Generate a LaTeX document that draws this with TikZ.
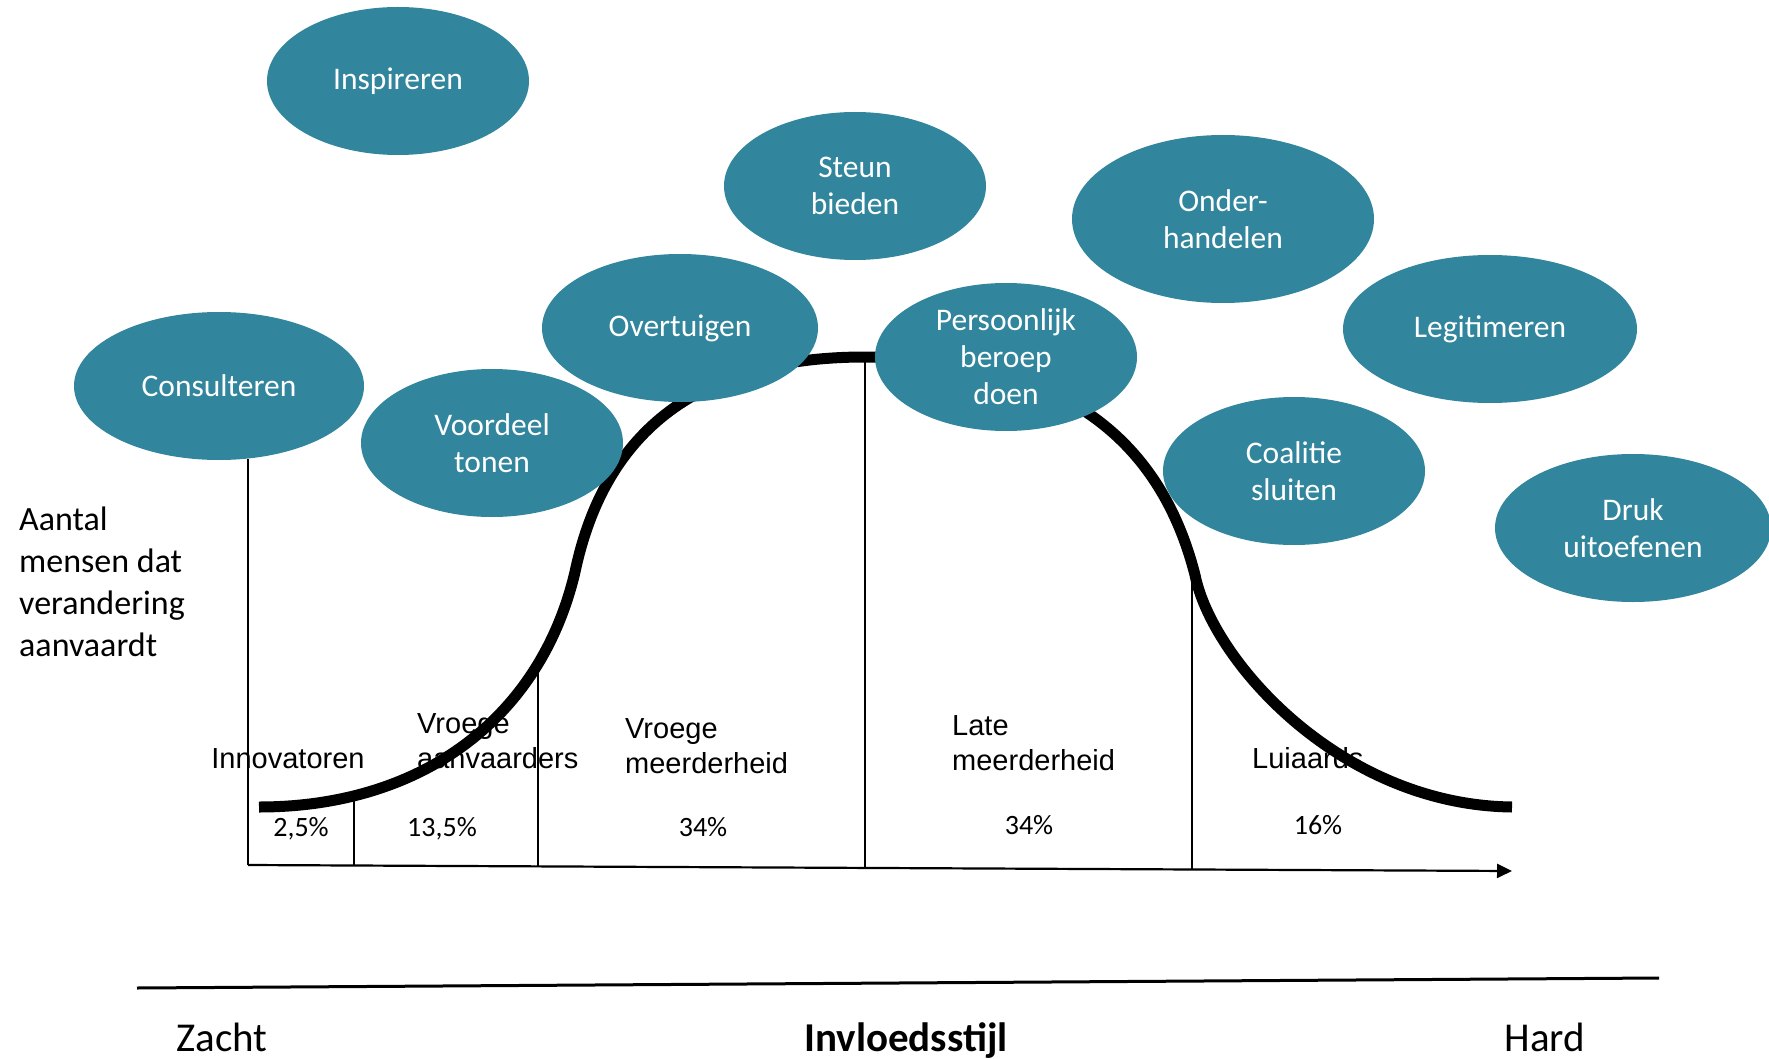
\documentclass[tikz,border=0pt]{standalone}
\usepackage{fontspec}
\setmainfont{Carlito}
\newfontfamily\arialf{Liberation Sans}
\usetikzlibrary{shapes.geometric,arrows.meta}
\definecolor{tealbub}{HTML}{31859C}
\begin{document}
\begin{tikzpicture}[x=1pt,y=-1pt,
  bubble/.style={ellipse, fill=tealbub, text=white, inner sep=0pt, align=center,
    font=\fontsize{31.5}{37}\selectfont},
  grp/.style={font=\arialf\fontsize{29}{35}\selectfont, inner sep=0pt, align=left, anchor=base west},
  pct/.style={font=\fontsize{28}{33}\selectfont, inner sep=0pt, anchor=base},
  bottomlbl/.style={font=\fontsize{41}{48}\selectfont, inner sep=0pt, anchor=base},
  divider/.style={line width=2pt},
  bellcurve/.style={line width=11pt},
  axisline/.style={line width=2.2pt, -{Triangle[length=15pt,width=14pt]}}
]
\useasboundingbox (0,0) rectangle (1769,1059);

% y-axis label (base anchor = baseline of last line)
\node[font=\fontsize{34}{41.7}\selectfont, inner sep=0pt, align=left, anchor=base west]
  (ylab) at (19,656) {Aantal\\mensen dat\\verandering\\aanvaardt};

% group labels
\node[grp, anchor=base] (innov) at (288,768.5) {Innovatoren};
\node[grp] (vaanv) at (417,768.5) {Vroege\\aanvaarders};
\node[grp] (vmeer) at (625,773.5) {Vroege\\meerderheid};
\node[grp] (lmeer) at (952,770.5) {Late\\meerderheid};
\node[grp] (luia) at (1252,768) {Luiaards};

% percentages
\node[pct] (p1) at (301,836) {2,5\%};
\node[pct] (p2) at (442,836) {13,5\%};
\node[pct] (p3) at (703,836) {34\%};
\node[pct] (p4) at (1029,834) {34\%};
\node[pct] (p5) at (1318,834) {16\%};

% axis and dividers
\coordinate (ax0) at (248,865);
\coordinate (ax1) at (1512,871);
\coordinate (d0t) at (248,459);
\coordinate (d1t) at (354,798);  \coordinate (d1b) at (354,865.5);
\coordinate (d2t) at (538,668);  \coordinate (d2b) at (538,866.4);
\coordinate (d3t) at (865,357);  \coordinate (d3b) at (865,868);
\coordinate (d4t) at (1192,575); \coordinate (d4b) at (1192,869.5);
\draw[divider] (d0t) -- (ax0);
\draw[divider] (d1t) -- (d1b);
\draw[divider] (d2t) -- (d2b);
\draw[divider] (d3t) -- (d3b);
\draw[divider] (d4t) -- (d4b);
\draw[axisline] (ax0) -- (ax1);

% bell curve
\coordinate (c0) at (259,807);
\coordinate (c1) at (575,572);
\coordinate (c2) at (865,357);
\coordinate (c3) at (1195,575);
\coordinate (c4) at (1512,807);
\draw[bellcurve] (c0) .. controls (420,807) and (540,720) .. (c1)
  .. controls (605,430) and (700,357) .. (c2)
  .. controls (1050,357) and (1158,430) .. (c3)
  .. controls (1212,660) and (1340,805) .. (c4);

% bottom scale
\coordinate (b0) at (137,988);
\coordinate (b1) at (1659,978);
\draw[line width=3pt] (b0) -- (b1);
\node[bottomlbl] (zacht) at (222,1051) {Zacht};
\node[bottomlbl, font=\bfseries\fontsize{41}{48}\selectfont] (invl) at (906,1051) {Invloedsstijl};
\node[bottomlbl] (hard) at (1545,1051) {Hard};

% bubbles
\node[bubble, minimum width=262pt, minimum height=148pt] (insp) at (398,81) {Inspireren};
\node[bubble, minimum width=262pt, minimum height=148pt] (steun) at (855,186) {Steun\\bieden};
\node[bubble, minimum width=302pt, minimum height=168pt] (onder) at (1223,219) {Onder-\\handelen};
\node[bubble, minimum width=290pt, minimum height=148pt] (cons) at (219,386) {Consulteren};
\node[bubble, minimum width=262pt, minimum height=148pt] (voord) at (492,443) {Voordeel\\tonen};
\node[bubble, minimum width=276pt, minimum height=148pt] (overt) at (680,328) {Overtuigen};
\node[bubble, minimum width=262pt, minimum height=148pt] (pers) at (1006,357) {Persoonlijk\\beroep\\doen};
\node[bubble, minimum width=294pt, minimum height=148pt] (legit) at (1490,329) {Legitimeren};
\node[bubble, minimum width=262pt, minimum height=148pt] (coal) at (1294,471) {Coalitie\\sluiten};
\node[bubble, minimum width=276pt, minimum height=148pt] (druk) at (1633,528) {Druk\\uitoefenen};
\end{tikzpicture}
\end{document}
